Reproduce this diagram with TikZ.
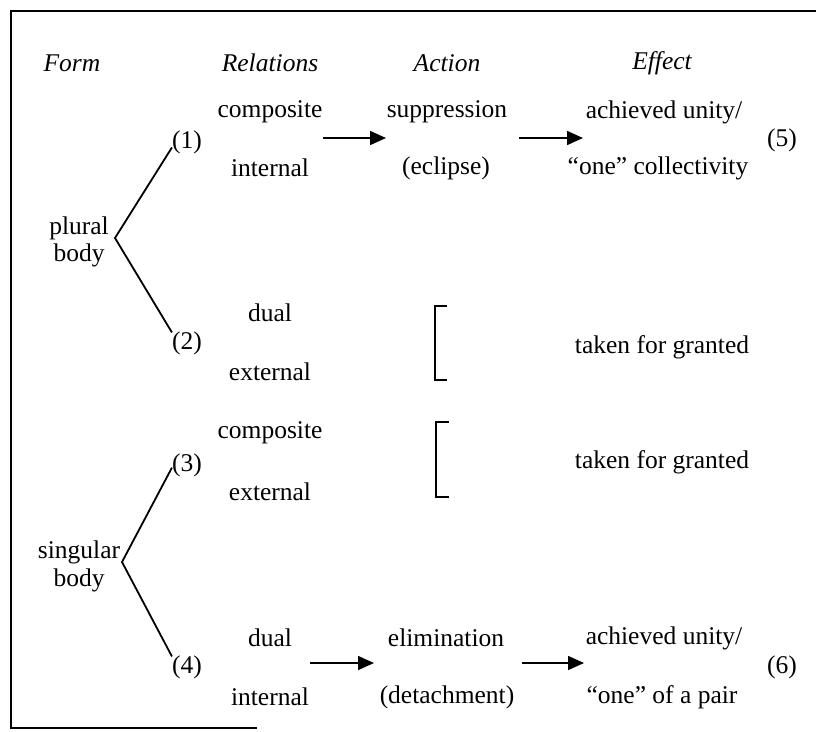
\documentclass[tikz,border=0pt]{standalone}
\usepackage{fontspec}
\setmainfont{Liberation Serif}
\usetikzlibrary{arrows.meta, calc, positioning}
\begin{document}
\begin{tikzpicture}[x=1pt, y=-1pt,
					every node/.style={font=\fontsize{25.5}{30}\selectfont, inner sep=1pt},
					head/.style={font=\fontsize{25.5}{30}\selectfont\itshape},
					num/.style={inner sep=0pt},
					branch/.style={line width=1.8pt},
					flow/.style={line width=1.6pt, -{Triangle[length=16pt,width=14pt]}},
					bracket/.style={line width=2.2pt}]
\useasboundingbox (0,0) rectangle (816,731);
\draw[line width=1.8pt] (816,11) -- (11,11) -- (11,728) -- (257,728);

\node[head] (form) at (72,63) {Form};
\node[head] (relations) at (270,63) {Relations};
\node[head] (action) at (447,63) {Action};
\node[head] (effect) at (662,63) {Effect};

\node (plural) at (79,228) {plural};
\node (pluralb) at (79,255) {body};
\coordinate (pluralapex) at (115,238);
\node[num] (n1) at (187,142) {(1)};
\node[num] (n2) at (187,343) {(2)};
\draw[branch] (n1.200) -- (pluralapex) -- (n2.145);

\node (composite1) at (270,112) {composite};
\node (internal1) at (270,168) {internal};
\node (suppression) at (447,112) {suppression};
\node (eclipse) at (446,168) {(eclipse)};
\node (unity1) at (664,112) {achieved unity/};
\node (collectivity) at (658,168) {``one'' collectivity};
\node[num] (n5) at (782,140) {(5)};
\coordinate (a1) at (323,138);
\coordinate (b1) at (386,138);
\coordinate (a2) at (519,138);
\coordinate (b2) at (583,138);
\draw[flow] (a1) -- (b1);
\draw[flow] (a2) -- (b2);

\node (dual1) at (270,313) {dual};
\node (external1) at (270,372) {external};
\draw[bracket] (447,306) -- (435,306) -- (435,380) -- (447,380);
\node (granted1) at (662,347) {taken for granted};

\node (composite2) at (270,433) {composite};
\node (external2) at (270,492) {external};
\draw[bracket] (449,422) -- (436,422) -- (436,497) -- (449,497);
\node (granted2) at (662,462) {taken for granted};

\node (singular) at (79,552) {singular};
\node (singularb) at (79,580) {body};
\coordinate (singularapex) at (122,562);
\node[num] (n3) at (187,465) {(3)};
\node[num] (n4) at (187,667) {(4)};
\draw[branch] (n3.190) -- (singularapex) -- (n4.145);

\node (dual2) at (270,638) {dual};
\node (internal2) at (270,697) {internal};
\node (elimination) at (446,638) {elimination};
\node (detachment) at (447,697) {(detachment)};
\node (unity2) at (664,638) {achieved unity/};
\node (pair) at (662,697) {``one'' of a pair};
\node[num] (n6) at (782,667) {(6)};
\coordinate (a3) at (310,663);
\coordinate (b3) at (374,663);
\coordinate (a4) at (522,663);
\coordinate (b4) at (584,663);
\draw[flow] (a3) -- (b3);
\draw[flow] (a4) -- (b4);
\end{tikzpicture}
\end{document}
